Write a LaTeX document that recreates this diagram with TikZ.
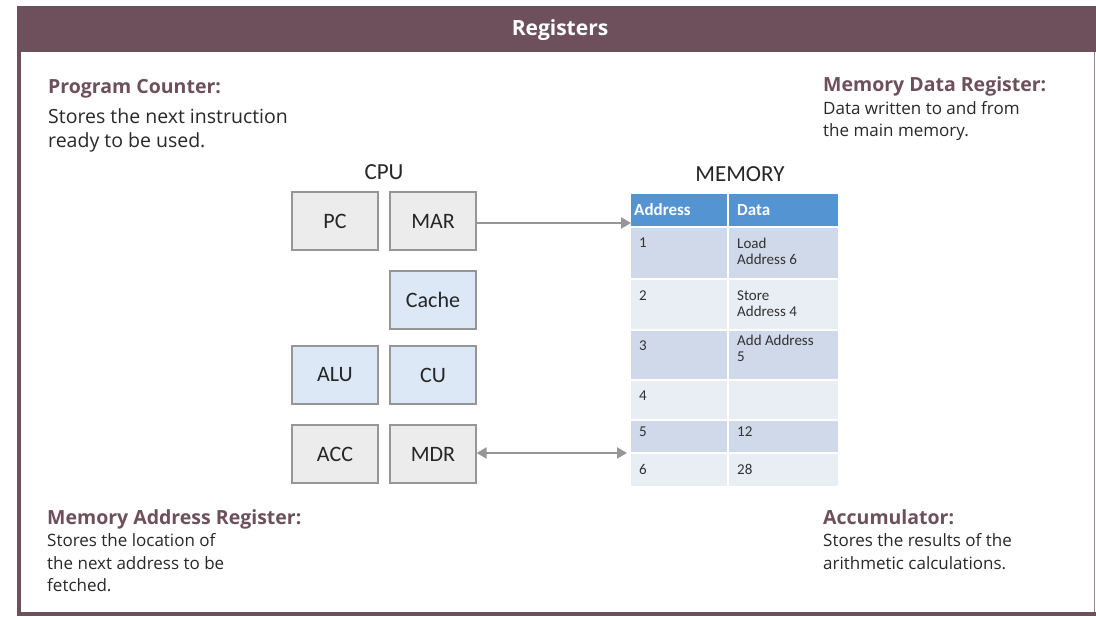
\documentclass[tikz,border=0pt]{standalone}
\usepackage{fontspec}
\setmainfont{Open Sans}
\newfontfamily\diagfont{Carlito}
\definecolor{mauve}{RGB}{110,80,92}
\definecolor{bodytxt}{RGB}{40,40,40}
\definecolor{boxgray}{RGB}{236,236,236}
\definecolor{boxblue}{RGB}{220,232,246}
\definecolor{boxedge}{RGB}{150,150,150}
\definecolor{arrowgray}{RGB}{150,150,150}
\definecolor{hdrblue}{RGB}{84,148,210}
\definecolor{rowdark}{RGB}{208,217,233}
\definecolor{rowlight}{RGB}{233,237,244}
\definecolor{celltxt}{RGB}{50,50,50}
\usetikzlibrary{arrows.meta}
\tikzset{gtip/.tip={Triangle[length=10pt,width=11pt]}}
\begin{document}
\begin{tikzpicture}[x=1pt,y=-1pt,
  heading/.style={anchor=base west,inner sep=0,text=mauve,font=\fontsize{19.5}{24}\selectfont\bfseries},
  bodybig/.style={anchor=base west,inner sep=0,text=bodytxt,font=\fontsize{19.5}{24}\selectfont},
  bodysmall/.style={anchor=base west,inner sep=0,text=bodytxt,font=\fontsize{17}{22}\selectfont},
  reg/.style={draw=boxedge,line width=1.3pt,minimum width=86pt,minimum height=58pt,inner sep=0,font=\diagfont\fontsize{22}{24}\selectfont,text=black!85},
  graybox/.style={reg,fill=boxgray},
  bluebox/.style={reg,fill=boxblue},
  cell/.style={anchor=north west,inner sep=0,text=celltxt,align=left,font=\diagfont\fontsize{15}{16}\selectfont},
  hcell/.style={anchor=west,inner sep=0,text=white,font=\diagfont\fontsize{17}{18}\selectfont\bfseries},
  title/.style={font=\diagfont\fontsize{23}{25}\selectfont,text=black!85},
  conn/.style={draw=arrowgray,line width=2.2pt}
]
\useasboundingbox (0,0) rectangle (1096,617);
\fill[white] (0,0) rectangle (1096,617);
% frame
\fill[mauve] (17,6) rectangle (1096,52);
\fill[mauve] (17,52) rectangle (21,616);
\fill[mauve] (21,612) rectangle (1096,616);
\draw[mauve!70,line width=0.8pt] (1094.5,52) -- (1094.5,612);
\node[text=white,font=\fontsize{21}{24}\selectfont\bfseries] (ttl) at (560,30) {Registers};

% descriptions
\node[heading] (pch) at (48,94) {Program Counter:};
\node[bodybig] (pcb1) at (48,124) {Stores the next instruction};
\node[bodybig] (pcb2) at (48,148) {ready to be used.};
\node[heading] (mdrh) at (823,92) {Memory Data Register:};
\node[bodysmall] (mdrb1) at (823,115) {Data written to and from};
\node[bodysmall] (mdrb2) at (823,137) {the main memory.};
\node[heading] (marh) at (47,525) {Memory Address Register:};
\node[bodysmall] (marb1) at (47,547) {Stores the location of};
\node[bodysmall] (marb2) at (47,569) {the next address to be};
\node[bodysmall] (marb3) at (47,591) {fetched.};
\node[heading] (acch) at (823,525) {Accumulator:};
\node[bodysmall] (accb1) at (823,547) {Stores the results of the};
\node[bodysmall] (accb2) at (823,569) {arithmetic calculations.};

% CPU
\node[title] (cpu) at (384,172) {CPU};
\node[graybox] (pc) at (335,221) {PC};
\node[graybox] (mar) at (433,221) {MAR};
\node[bluebox] (cache) at (433,300) {Cache};
\node[bluebox] (alu) at (335,375) {ALU};
\node[bluebox] (cu) at (433,375) {CU};
\node[graybox] (acc) at (335,454) {ACC};
\node[graybox] (mdr) at (433,454) {MDR};

% MEMORY table
\node[title] (memt) at (740,174) {MEMORY};
\begin{scope}[draw=white,line width=1.5pt]
\filldraw[fill=hdrblue] (630,193) rectangle (728,227);
\filldraw[fill=hdrblue] (728,193) rectangle (839,227);
\filldraw[fill=rowdark] (630,227) rectangle (728,279);
\filldraw[fill=rowdark] (728,227) rectangle (839,279);
\filldraw[fill=rowlight] (630,279) rectangle (728,330);
\filldraw[fill=rowlight] (728,279) rectangle (839,330);
\filldraw[fill=rowdark] (630,330) rectangle (728,380);
\filldraw[fill=rowdark] (728,330) rectangle (839,380);
\filldraw[fill=rowlight] (630,380) rectangle (728,420);
\filldraw[fill=rowlight] (728,380) rectangle (839,420);
\filldraw[fill=rowdark] (630,420) rectangle (728,453);
\filldraw[fill=rowdark] (728,420) rectangle (839,453);
\filldraw[fill=rowlight] (630,453) rectangle (728,487);
\filldraw[fill=rowlight] (728,453) rectangle (839,487);
\end{scope}
\coordinate (memmar) at (631,223);
\coordinate (memmdr) at (627,453);
\node[hcell] (ha) at (634,210) {Address};
\node[hcell] (hd) at (737,210) {Data};
\node[cell] (a1) at (639,238) {1};
\node[cell] (d1) at (737,238) {Load\\Address 6};
\node[cell] (a2) at (639,291) {2};
\node[cell] (d2) at (737,291) {Store\\Address 4};
\node[cell] (a3) at (639,341) {3};
\node[cell] (d3) at (737,335) {Add Address\\5};
\node[cell] (a4) at (639,391) {4};
\node[cell] (a5) at (639,427) {5};
\node[cell] (d5) at (737,427) {12};
\node[cell] (a6) at (639,464) {6};
\node[cell] (d6) at (737,464) {28};

% connectors
\draw[conn,-gtip] (mar.east |- 0,223) -- (memmar);
\draw[conn,gtip-gtip] (mdr.east |- 0,453) -- (memmdr);
\end{tikzpicture}
\end{document}
